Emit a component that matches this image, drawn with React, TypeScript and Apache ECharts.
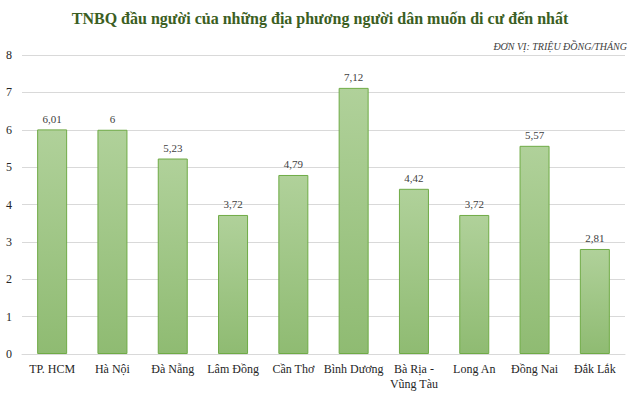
import React, { useEffect, useRef } from "react";
import * as echarts from "echarts";

const categories = ["TP. HCM", "Hà Nội", "Đà Nẵng", "Lâm Đồng", "Cần Thơ", "Bình Dương", "Bà Rịa -\nVũng Tàu", "Long An", "Đồng Nai", "Đắk Lắk"];
const values = [6.01, 6, 5.23, 3.72, 4.79, 7.12, 4.42, 3.72, 5.57, 2.81];
const titleText = "TNBQ đầu người của những địa phương người dân muốn di cư đến nhất";
const unitText = "ĐƠN VỊ: TRIỆU ĐỒNG/THÁNG";

export default function App() {
  const ref = useRef<HTMLDivElement>(null);
  useEffect(() => {
    if (!ref.current) return;
    const chart = echarts.init(ref.current, null, { renderer: "svg" });
    const serif = "'Liberation Serif', 'Times New Roman', serif";
    chart.setOption({
      animation: false,
      backgroundColor: "#ffffff",
      title: [
        {
          text: titleText,
          left: "center",
          top: 5,
          textStyle: { fontFamily: serif, fontSize: 16, fontWeight: "bold", color: "#3b5e22" },
        },
        {
          text: unitText,
          right: 8,
          top: 36,
          textStyle: { fontFamily: serif, fontSize: 10, fontStyle: "italic", fontWeight: "normal", color: "#404040" },
        },
      ],
      grid: { left: 22, right: 15, top: 55, bottom: 39, containLabel: false },
      xAxis: {
        type: "category",
        data: categories,
        axisLine: { lineStyle: { color: "#d9d9d9" } },
        axisTick: { show: false },
        axisLabel: { interval: 0, fontFamily: serif, fontSize: 12, color: "#262626", margin: 7, lineHeight: 15 },
      },
      yAxis: {
        type: "value",
        min: 0,
        max: 8,
        interval: 1,
        axisLine: { show: false },
        axisTick: { show: false },
        splitLine: { lineStyle: { color: "#d9d9d9" } },
        axisLabel: { fontFamily: serif, fontSize: 12, color: "#262626", margin: 10 },
      },
      series: [
        {
          type: "bar",
          data: values,
          barWidth: 30,
          itemStyle: {
            color: new echarts.graphic.LinearGradient(0, 0, 0, 1, [
              { offset: 0, color: "#b0d19a" },
              { offset: 1, color: "#8fbb72" },
            ]),
            borderColor: "#6fab46",
            borderWidth: 1,
          },
          label: {
            show: true,
            position: "top",
            distance: 5,
            fontFamily: serif,
            fontSize: 11,
            color: "#404040",
            formatter: (p: any) => String(p.value).replace(".", ","),
          },
        },
      ],
    });
    return () => chart.dispose();
  }, []);
  return <div ref={ref} style={{ width: 640, height: 393, position: "absolute", left: 0, top: 0 }} />;
}
